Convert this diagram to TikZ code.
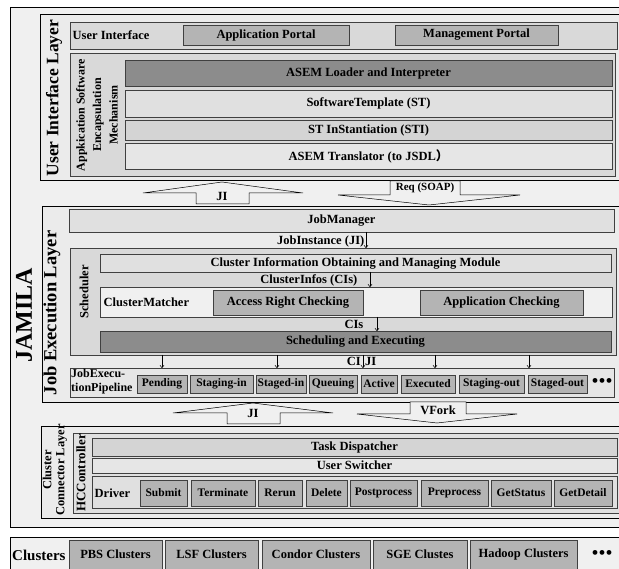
\documentclass[tikz,border=0pt]{standalone}
\usepackage{fontspec}
\setmainfont{Liberation Serif}
\newfontfamily\cjk{Noto Sans CJK SC}
\usetikzlibrary{fit,arrows.meta}

\definecolor{jambg}{HTML}{F0F0F0}
\definecolor{layerbg}{HTML}{EBEBEB}
\definecolor{ltgray}{HTML}{D9D9D9}
\definecolor{midgray}{HTML}{B4B4B4}
\definecolor{dkgray}{HTML}{8C8C8C}
\definecolor{pale}{HTML}{E6E6E6}
\definecolor{tmplgray}{HTML}{E0E0E0}
\definecolor{stigray}{HTML}{D4D4D4}
\definecolor{edge}{HTML}{404040}

\begin{document}
\begin{tikzpicture}[x=1pt,y=-1pt,
    layer/.style={draw=black, line width=0.6pt, fill=layerbg, inner sep=0pt, outer sep=0pt},
    box/.style={draw=edge, line width=0.8pt, fill=ltgray, inner sep=0pt, outer sep=0pt,
      anchor=north west, font=\bfseries\fontsize{12.5}{14}\selectfont},
    item/.style={box, fill=midgray, font=\bfseries\fontsize{11.5}{13}\selectfont},
    txt/.style={inner sep=1.5pt, font=\bfseries\fontsize{12.5}{14}\selectfont},
    side/.style={rotate=90, inner sep=0pt, font=\bfseries\fontsize{17.5}{20}\selectfont},
    flow/.style={-{To[length=3pt,width=4.5pt]}, line width=0.5pt},
    bigarrow/.style={draw=black, line width=0.5pt, fill=jambg}]
  \useasboundingbox (0,0) rectangle (619,569);
  \clip (0,0) rectangle (619,569);

  % frames
  \node[layer, fill=jambg, fit={(10,7) (640,527)}] (jamila) {};
  \node[side, font=\bfseries\fontsize{24}{26}\selectfont] (jamilalbl) at (24,315) {JAMILA};
  \node[layer, fill=jambg, fit={(10,537) (640,590)}] (clusters) {};

  % user interface layer
  \node[layer, fit={(40,14) (640,180)}] (uilayer) {};
  \node[side] (uilbl) at (54,98) {User Interface Layer};
  \node[box, minimum width=547pt, minimum height=27pt] (uirow) at (70,22) {};
  \node[txt, anchor=west] (uitxt) at (71,35) {User Interface};
  \node[box, fill=midgray, minimum width=166pt, minimum height=20pt] (appportal) at (183,25) {Application Portal};
  \node[box, fill=midgray, minimum width=163pt, minimum height=20pt] (mgmtportal) at (395,25) {Management Portal};

  \node[box, minimum width=545pt, minimum height=123pt] (asem) at (70,53) {};
  \node[side, align=center, font=\bfseries\fontsize{12}{16.5}\selectfont] (asemlbl) at (97,115)
    {Appkication Software\\Encapsulation\\Mechanism};
  \node[box, fill=dkgray, minimum width=487pt, minimum height=26pt] (loader) at (125,60) {ASEM Loader and Interpreter};
  \node[box, fill=tmplgray, minimum width=487pt, minimum height=27pt] (stemplate) at (125,90) {SoftwareTemplate (ST)};
  \node[box, fill=stigray, minimum width=487pt, minimum height=20pt] (stinst) at (125,120) {ST InStantiation (STI)};
  \node[box, fill=pale, minimum width=487pt, minimum height=26pt] (translator) at (125,143) {ASEM Translator (to JSDL{\cjk ）}};

  % between ui and job execution
  \coordinate (jitip) at (222,182);
  \draw[bigarrow] (jitip) -- (303,193) -- (249,193) -- (249,204) -- (196,204) -- (196,193) -- (143,193) -- cycle;
  \node[txt] (jiup) at (222,196) {JI};
  \coordinate (reqtip) at (429,205);
  \draw[bigarrow] (reqtip) -- (520,195) -- (460,195) -- (460,181) -- (390,181) -- (390,195) -- (338,195) -- cycle;
  \node[txt, font=\bfseries\fontsize{11}{12}\selectfont] (reqtxt) at (425,188) {Req (SOAP)};

  % job execution layer
  \node[layer, fit={(42,206) (640,402)}] (jelayer) {};
  \node[side, font=\bfseries\fontsize{18.5}{20}\selectfont] (jelbl) at (52,313) {Job Execution Layer};
  \node[box, fill=tmplgray, minimum width=545pt, minimum height=23pt] (jobmgr) at (69,209) {JobManager};
  \node[txt, anchor=east] (jitxt) at (366,241) {JobInstance (JI)};

  \node[box, minimum width=546pt, minimum height=107pt] (sched) at (70,248) {};
  \draw[flow] (jitxt.east |- jobmgr.south) -- (jitxt.east |- sched.north);
  \node[side, font=\bfseries\fontsize{12.5}{14}\selectfont] (schedlbl) at (84,292) {Scheduler};
  \node[box, fill=tmplgray, minimum width=511pt, minimum height=18pt] (cimod) at (100,254) {Cluster Information Obtaining and Managing Module};
  \node[txt, anchor=east] (citxt) at (359,280) {ClusterInfos (CIs)};
  \node[box, fill=jambg, minimum width=512pt, minimum height=30pt] (matcher) at (100,287) {};
  \draw[flow] (cimod.south -| 370,0) -- (matcher.north -| 370,0);
  \node[txt, anchor=west] (matchtxt) at (102,302) {ClusterMatcher};
  \node[box, fill=midgray, minimum width=150pt, minimum height=25pt] (access) at (213,290) {Access Right Checking};
  \node[box, fill=midgray, minimum width=163pt, minimum height=25pt] (appcheck) at (420,290) {Application Checking};
  \node[txt, anchor=east] (cistxt) at (365,324) {CIs};
  \node[box, fill=dkgray, minimum width=511pt, minimum height=21pt] (schedexec) at (100,331) {Scheduling and Executing};
  \draw[flow] (matcher.south -| 377,0) -- (schedexec.north -| 377,0);

  % pipeline
  \node[box, fill=pale, minimum width=544pt, minimum height=29pt] (pipe) at (70,368) {};
  \foreach \x in {162,277,363,435,529}
    \draw[flow] (sched.south -| \x,0) -- (pipe.north -| \x,0);
  \node[txt, anchor=east, inner sep=1pt] (cilbl) at (362,361) {CI};
  \node[txt, anchor=west, inner sep=1pt] (jilbl) at (364,361) {JI};
  \node[txt, anchor=west, align=left, inner sep=1pt, font=\bfseries\fontsize{12}{14}\selectfont] (pipetxt) at (70,382)
    {JobExecu-\\tionPipeline};
  \node[item, minimum width=50pt, minimum height=18pt] (pending) at (137,375) {Pending};
  \node[item, minimum width=63pt, minimum height=18pt] (stagingin) at (190,375) {Staging-in};
  \node[item, minimum width=50pt, minimum height=18pt] (stagedin) at (256,375) {Staged-in};
  \node[item, minimum width=48pt, minimum height=18pt] (queuing) at (309,375) {Queuing};
  \node[item, minimum width=36pt, minimum height=18pt] (active) at (361,375) {Active};
  \node[item, minimum width=54pt, minimum height=18pt] (executed) at (401,375) {Executed};
  \node[item, minimum width=65pt, minimum height=18pt] (stagingout) at (459,375) {Staging-out};
  \node[item, minimum width=59pt, minimum height=18pt] (stagedout) at (528,375) {Staged-out};
  \node[txt, font=\fontsize{20}{20}\selectfont, inner sep=0pt] (pipedots) at (602,383) {•••};

  % between job execution and cluster connector
  \coordinate (jitip2) at (253,403);
  \draw[bigarrow] (jitip2) -- (333,413) -- (280,413) -- (280,424) -- (227,424) -- (227,413) -- (173,413) -- cycle;
  \node[txt] (jiup2) at (253,413) {JI};
  \coordinate (vforktip) at (437,423);
  \draw[bigarrow] (vforktip) -- (517,414) -- (466,414) -- (466,402) -- (410,402) -- (410,414) -- (357,414) -- cycle;
  \node[txt] (vforktxt) at (438,410) {VFork};

  % cluster connector layer
  \node[layer, fit={(41,426) (640,518)}] (cclayer) {};
  \node[side, align=center, font=\bfseries\fontsize{12.5}{13}\selectfont] (cclbl) at (55,470) {Cluster\\Connector Layer};
  \node[layer, draw=edge, fill=tmplgray, fit={(73,433) (640,513)}] (hcc) {};
  \node[side, font=\bfseries\fontsize{13}{14}\selectfont] (hcclbl) at (81,473) {HCController};
  \node[box, fill=stigray, minimum width=525pt, minimum height=18pt] (dispatch) at (92,438) {Task Dispatcher};
  \node[box, fill=pale, minimum width=525pt, minimum height=15pt] (switcher) at (92,458) {User Switcher};
  \node[box, fill=tmplgray, minimum width=525pt, minimum height=32pt] (driver) at (92,476) {};
  \node[txt, anchor=west] (drvtxt) at (93,493) {Driver};
  \node[item, minimum width=47pt, minimum height=26pt] (submit) at (140,480) {Submit};
  \node[item, minimum width=64pt, minimum height=26pt] (terminate) at (191,480) {Terminate};
  \node[item, minimum width=44pt, minimum height=26pt] (rerun) at (258,480) {Rerun};
  \node[item, minimum width=41pt, minimum height=26pt] (delete) at (306,480) {Delete};
  \node[item, minimum width=67pt, minimum height=26pt] (postproc) at (350,480) {Postprocess};
  \node[item, minimum width=67pt, minimum height=26pt] (preproc) at (421,480) {Preprocess};
  \node[item, minimum width=60pt, minimum height=26pt] (getstatus) at (491,480) {GetStatus};
  \node[item, minimum width=58pt, minimum height=26pt] (getdetail) at (554,480) {GetDetail};

  % clusters
  \node[txt, anchor=west, inner sep=0pt, font=\bfseries\fontsize{15}{16}\selectfont] (clutxt) at (12,555) {Clusters};
  \node[box, fill=midgray, minimum width=93pt, minimum height=50pt] (pbs) at (69,540) {};
  \node[txt] (pbstxt) at (pbs.north |- 0,554) {PBS Clusters};
  \node[box, fill=midgray, minimum width=93pt, minimum height=50pt] (lsf) at (165,540) {};
  \node[txt] (lsftxt) at (lsf.north |- 0,554) {LSF Clusters};
  \node[box, fill=midgray, minimum width=108pt, minimum height=50pt] (condor) at (262,540) {};
  \node[txt] (condortxt) at (condor.north |- 0,554) {Condor Clusters};
  \node[box, fill=midgray, minimum width=94pt, minimum height=50pt] (sge) at (373,540) {};
  \node[txt] (sgetxt) at (sge.north |- 0,554) {SGE Clustes};
  \node[box, fill=midgray, minimum width=107pt, minimum height=50pt] (hadoop) at (470,540) {};
  \node[txt] (hadooptxt) at (hadoop.north |- 0,554) {Hadoop Clusters};
  \node[txt, font=\fontsize{20}{20}\selectfont, inner sep=0pt] (cludots) at (602,555) {•••};
\end{tikzpicture}
\end{document}
